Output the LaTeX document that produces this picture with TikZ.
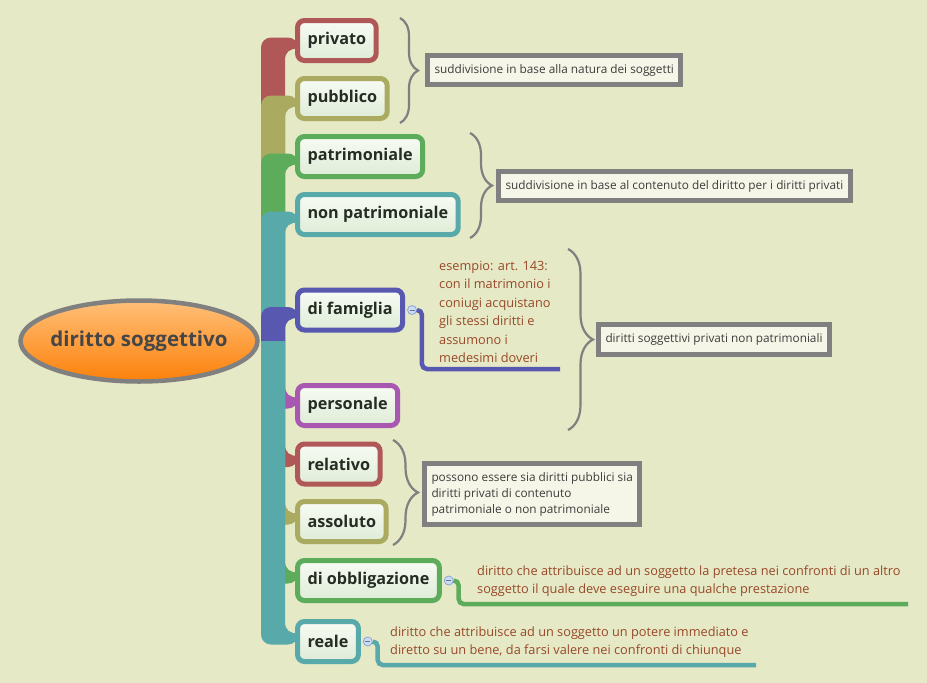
\documentclass[tikz,border=0pt]{standalone}
\usepackage{fontspec}
\setmainfont{Open Sans}
\usetikzlibrary{
  positioning, calc, backgrounds,
  decorations.pathreplacing, shapes.geometric
}

\definecolor{bgcol}{RGB}{229,233,198}
\definecolor{redb}{RGB}{176,88,88}
\definecolor{oliveb}{RGB}{170,170,96}
\definecolor{greenb}{RGB}{92,172,92}
\definecolor{tealb}{RGB}{88,170,170}
\definecolor{blueb}{RGB}{88,88,176}
\definecolor{purpb}{RGB}{168,88,176}
\definecolor{grayb}{RGB}{128,128,128}
\definecolor{topfillA}{RGB}{248,251,244}
\definecolor{topfillB}{RGB}{222,236,214}
\definecolor{sumfill}{RGB}{246,246,232}
\definecolor{sumtxt}{RGB}{60,60,60}
\definecolor{labtxt}{RGB}{36,44,36}
\definecolor{notetxt}{RGB}{152,72,40}
\definecolor{rootA}{RGB}{255,192,120}
\definecolor{rootB}{RGB}{252,128,10}
\definecolor{markfill}{RGB}{205,220,245}
\definecolor{markdraw}{RGB}{140,165,215}

\tikzset{
  root/.style={ellipse, draw=grayb, line width=4.5pt, top color=rootA,
    bottom color=rootB, minimum width=237pt, minimum height=81pt,
    inner xsep=-6pt, inner ysep=0pt, text={rgb,255:red,70;green,70;blue,70},
    font=\fontsize{20.5}{24}\selectfont\bfseries},
  topic/.style={draw=#1, line width=5pt, rounded corners=7pt,
    top color=topfillA, bottom color=topfillB, inner xsep=10pt,
    minimum height=40pt, anchor=west, text=labtxt,
    font=\fontsize{16.2}{18}\selectfont\bfseries},
  summary/.style={draw=grayb, line width=5pt, fill=sumfill,
    inner xsep=7pt, inner ysep=4pt, anchor=west, align=left,
    text=sumtxt, font=\fontsize{11.8}{16}\selectfont},
  callout/.style={anchor=west, align=left, inner sep=0pt,
    text=notetxt, font=\fontsize{12.75}{18.5}\selectfont},
  foldmark/.style={circle, draw=markdraw, fill=markfill, line width=0.8pt,
    minimum size=9pt, inner sep=0pt,
    path picture={\draw[markdraw!70!black, line width=0.8pt]
      ([xshift=-2.5pt]path picture bounding box.center) --
      ([xshift=2.5pt]path picture bounding box.center);}},
  link/.style={draw=#1, line width=4.5pt, rounded corners=5pt},
  curly/.style={draw=grayb, line width=2.2pt, decorate,
    decoration={brace, amplitude=#1}}
}

\begin{document}
\begin{tikzpicture}[x=1pt,y=-1pt]
  \useasboundingbox (0,0) rectangle (927,683);

  % central topic
  \node[root] (root) at (139,341) {diritto soggettivo};
  \coordinate (trunk) at (261,341);

  % main topics
  \node[topic=redb] (privato) at (295,40.5) {privato};
  \node[topic=oliveb] (pubblico) at (295,98.5) {pubblico};
  \node[topic=greenb] (patrim) at (295,156.5) {patrimoniale};
  \node[topic=tealb] (nonpatrim) at (295,214.5) {non patrimoniale};
  \node[topic=blueb] (famiglia) at (295,310) {di famiglia};
  \node[topic=purpb] (personale) at (295,405.5) {personale};
  \node[topic=redb] (relativo) at (295,464) {relativo};
  \node[topic=oliveb] (assoluto) at (295,521.5) {assoluto};
  \node[topic=greenb] (obblig) at (295,580.5) {di obbligazione};
  \node[topic=tealb] (reale) at (295,641.5) {reale};

  % branches behind the topics
  \begin{scope}[on background layer]
    \fill[bgcol] (0,0) rectangle (927,683);
    \foreach \n/\c in {privato/redb, pubblico/oliveb, patrim/greenb,
        nonpatrim/tealb, famiglia/blueb}
      \fill[\c] (trunk) [rounded corners=10pt] |- ([xshift=3pt,yshift=3pt]\n.west)
        [sharp corners] -- ([xshift=3pt,yshift=-8pt]\n.west)
        .. controls ([xshift=-5pt,yshift=-8pt]\n.west) and ([xshift=-10pt,yshift=-11pt]\n.west)
        .. ([xshift=-10pt,yshift=-20pt]\n.west) |- (trunk) -- cycle;
    \foreach \n/\c in {personale/purpb, relativo/redb, assoluto/oliveb,
        obblig/greenb, reale/tealb}
      \fill[\c] (trunk) [rounded corners=10pt] |- ([xshift=3pt,yshift=-3pt]\n.west)
        [sharp corners] -- ([xshift=3pt,yshift=8pt]\n.west)
        .. controls ([xshift=-5pt,yshift=8pt]\n.west) and ([xshift=-10pt,yshift=11pt]\n.west)
        .. ([xshift=-10pt,yshift=20pt]\n.west) |- (trunk) -- cycle;
  \end{scope}

  % summaries
  \draw[curly=18pt] (400,18) -- (400,123);
  \node[summary, minimum height=29pt] (natura) at (425,70)
    {suddivisione in base alla natura dei soggetti};
  \draw[curly=22pt] (470,133) -- (470,238);
  \node[summary, minimum height=29pt] (contenuto) at (496,186)
    {suddivisione in base al contenuto del diritto per i diritti privati};
  \draw[curly=25pt] (568,249) -- (568,430);
  \node[summary, minimum height=30pt] (nonpatpriv) at (596,339.5)
    {diritti soggettivi privati non patrimoniali};
  \draw[curly=25pt] (393,440) -- (393,545);
  \node[summary, minimum height=61pt] (pubpriv) at (422,494)
    {possono essere sia diritti pubblici sia\\diritti privati di contenuto\\patrimoniale o non patrimoniale};

  % notes
  \node[foldmark, right=2pt of famiglia] (famMark) {};
  \node[foldmark, right=2pt of obblig] (oblMark) {};
  \node[foldmark, right=2pt of reale] (realeMark) {};
  \coordinate (famEnd) at (560,369);
  \coordinate (oblEnd) at (908,604);
  \coordinate (realeEnd) at (756,665);
  \draw[link=blueb] (famMark.east) -- ++(5,0) |- (famEnd);
  \draw[link=greenb] (oblMark.east) -- ++(5,0) |- (oblEnd);
  \draw[link=tealb] (realeMark.east) -- ++(5,0) |- (realeEnd);
  \node[callout] (famNote) at (439,312)
    {esempio: art. 143:\\con il matrimonio i\\coniugi acquistano\\gli stessi diritti e\\assumono i\\medesimi doveri};
  \node[callout] (oblNote) at (477,581)
    {diritto che attribuisce ad un soggetto la pretesa nei confronti di un altro\\soggetto il quale deve eseguire una qualche prestazione};
  \node[callout] (realeNote) at (390,642)
    {diritto che attribuisce ad un soggetto un potere immediato e\\diretto su un bene, da farsi valere nei confronti di chiunque};
\end{tikzpicture}
\end{document}
